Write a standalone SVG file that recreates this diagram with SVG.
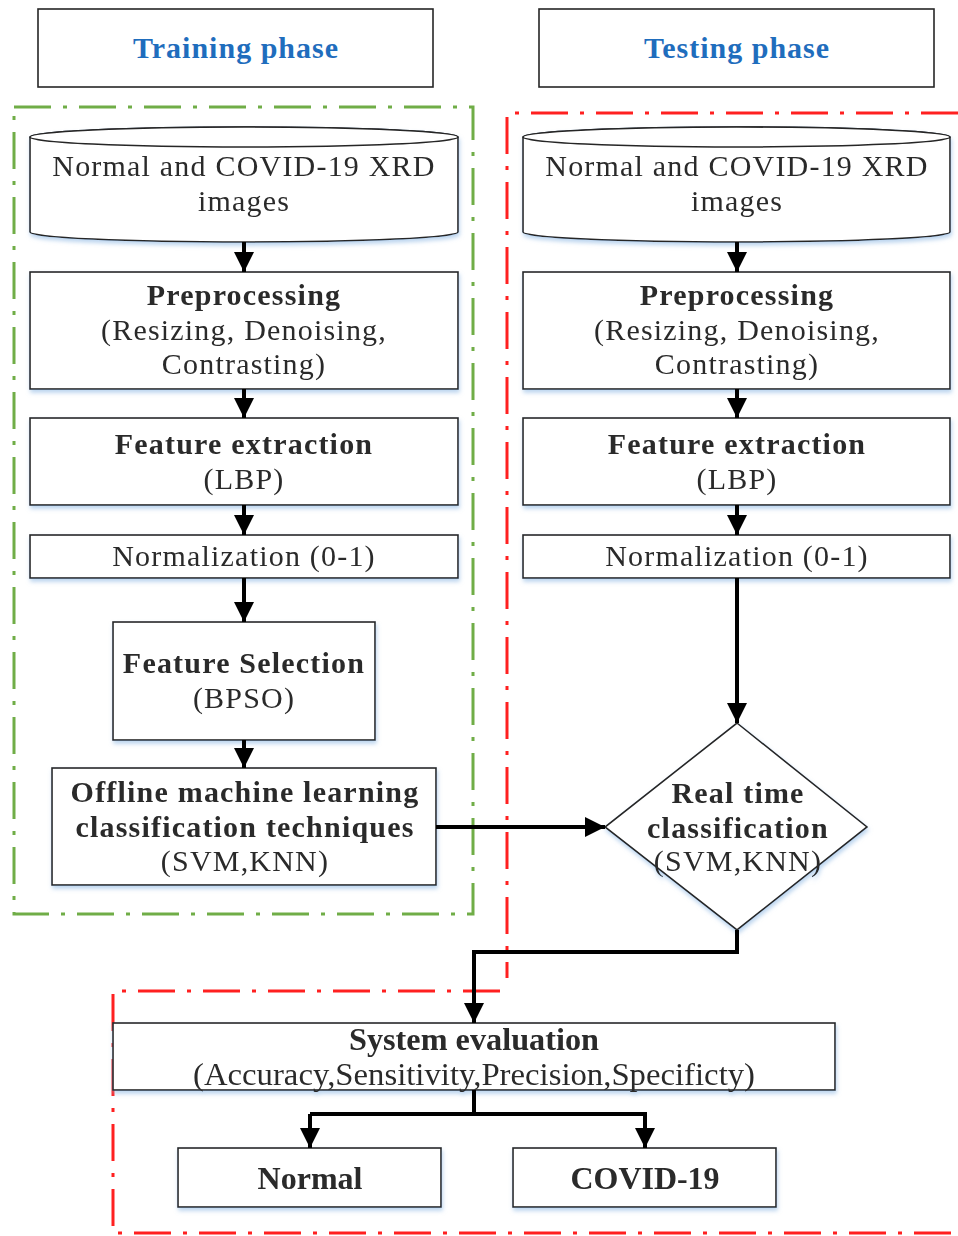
<svg xmlns="http://www.w3.org/2000/svg" width="958" height="1236" viewBox="0 0 958 1236">
<defs>
<filter id="sh" x="-5%" y="-10%" width="110%" height="130%">
<feDropShadow dx="1" dy="3" stdDeviation="2" flood-color="#8db8e3" flood-opacity="0.6"/>
</filter>
<marker id="ah" markerUnits="userSpaceOnUse" markerWidth="20" markerHeight="20" viewBox="0 0 20 20" refX="20" refY="10" orient="auto">
<path d="M0,0 L20,10 L0,20 Z" fill="#000"/>
</marker>
</defs>
<style>
.box{fill:#fff;stroke:#262626;stroke-width:1.6}
.t{font-family:"Liberation Serif","Times New Roman",serif;font-size:30px;fill:#2b2b2b;text-anchor:middle;letter-spacing:1.2px}
.b{font-weight:bold}
.title{font-family:"Liberation Serif","Times New Roman",serif;font-size:30px;font-weight:bold;fill:#1f6dbd;text-anchor:middle;letter-spacing:1px}
.c{fill:none;stroke:#000;stroke-width:4}
.g{fill:none;stroke:#70ad47;stroke-width:3;stroke-dasharray:37 12 4 12}
.r{fill:none;stroke:#ff2020;stroke-width:3;stroke-dasharray:37 12 4 12}
</style>

<g id="regions">
<path class="g" d="M14,107 H473 V914 H14 Z"/>
<path class="r" d="M958,113 H507 V978"/>
<path class="r" d="M500,991 H113 V1233 H958"/>
</g>

<g id="training-title">
<rect class="box" x="38" y="9" width="395" height="78"/>
<text class="title" x="236" y="58">Training phase</text>
</g>
<g id="testing-title">
<rect class="box" x="539" y="9" width="395" height="78"/>
<text class="title" x="737" y="58">Testing phase</text>
</g>

<g id="train-images" filter="url(#sh)">
<path class="box" d="M30,137 A214,10 0 0,1 458,137 L458,232 A214,10 0 0,1 30,232 Z"/>
<ellipse class="box" cx="244" cy="137" rx="214" ry="10"/>
<text class="t" x="244" y="176">Normal and COVID-19 XRD</text>
<text class="t" x="244" y="211">images</text>
</g>
<g id="test-images" filter="url(#sh)">
<path class="box" d="M523,137 A213.5,10 0 0,1 950,137 L950,232 A213.5,10 0 0,1 523,232 Z"/>
<ellipse class="box" cx="736.5" cy="137" rx="213.5" ry="10"/>
<text class="t" x="737" y="176">Normal and COVID-19 XRD</text>
<text class="t" x="737" y="211">images</text>
</g>

<g id="train-preproc" filter="url(#sh)">
<rect class="box" x="30" y="272" width="428" height="117"/>
<text class="t b" x="244" y="305">Preprocessing</text>
<text class="t" x="244" y="340">(Resizing, Denoising,</text>
<text class="t" x="244" y="374">Contrasting)</text>
</g>
<g id="test-preproc" filter="url(#sh)">
<rect class="box" x="523" y="272" width="427" height="117"/>
<text class="t b" x="737" y="305">Preprocessing</text>
<text class="t" x="737" y="340">(Resizing, Denoising,</text>
<text class="t" x="737" y="374">Contrasting)</text>
</g>

<g id="train-feat" filter="url(#sh)">
<rect class="box" x="30" y="418" width="428" height="87"/>
<text class="t b" x="244" y="454">Feature extraction</text>
<text class="t" x="244" y="489">(LBP)</text>
</g>
<g id="test-feat" filter="url(#sh)">
<rect class="box" x="523" y="418" width="427" height="87"/>
<text class="t b" x="737" y="454">Feature extraction</text>
<text class="t" x="737" y="489">(LBP)</text>
</g>

<g id="train-norm" filter="url(#sh)">
<rect class="box" x="30" y="535" width="428" height="43"/>
<text class="t" x="244" y="566">Normalization (0-1)</text>
</g>
<g id="test-norm" filter="url(#sh)">
<rect class="box" x="523" y="535" width="427" height="43"/>
<text class="t" x="737" y="566">Normalization (0-1)</text>
</g>

<g id="feature-selection" filter="url(#sh)">
<rect class="box" x="113" y="622" width="262" height="118"/>
<text class="t b" x="244" y="673">Feature Selection</text>
<text class="t" x="244" y="708">(BPSO)</text>
</g>

<g id="offline" filter="url(#sh)">
<rect class="box" x="52" y="768" width="384" height="117"/>
<text class="t b" x="245" y="802">Offline machine learning</text>
<text class="t b" x="245" y="837">classification techniques</text>
<text class="t" x="245" y="871">(SVM,KNN)</text>
</g>

<g id="realtime" filter="url(#sh)">
<path class="box" d="M737,723 L867,827 L737,930 L605,827 Z"/>
<text class="t b" x="738" y="803">Real time</text>
<text class="t b" x="738" y="838">classification</text>
<text class="t" x="738" y="871">(SVM,KNN)</text>
</g>

<g id="evaluation" filter="url(#sh)">
<rect class="box" x="113" y="1023" width="722" height="67"/>
<text class="t b" x="474" y="1050" textLength="250" lengthAdjust="spacingAndGlyphs" style="font-size:32px;letter-spacing:0">System evaluation</text>
<text class="t" x="474" y="1085" textLength="562" lengthAdjust="spacingAndGlyphs" style="font-size:32px;letter-spacing:0">(Accuracy,Sensitivity,Precision,Specificty)</text>
</g>

<g id="normal" filter="url(#sh)">
<rect class="box" x="178" y="1148" width="263" height="59"/>
<text class="t b" x="310" y="1189" textLength="105" lengthAdjust="spacingAndGlyphs" style="font-size:32px;letter-spacing:0">Normal</text>
</g>
<g id="covid" filter="url(#sh)">
<rect class="box" x="513" y="1148" width="263" height="59"/>
<text class="t b" x="645" y="1189" textLength="149" lengthAdjust="spacingAndGlyphs" style="font-size:32px;letter-spacing:0">COVID-19</text>
</g>

<g id="connectors">
<path class="c" d="M244,242 V272" marker-end="url(#ah)"/>
<path class="c" d="M737,242 V272" marker-end="url(#ah)"/>
<path class="c" d="M244,389 V418" marker-end="url(#ah)"/>
<path class="c" d="M737,389 V418" marker-end="url(#ah)"/>
<path class="c" d="M244,505 V535" marker-end="url(#ah)"/>
<path class="c" d="M737,505 V535" marker-end="url(#ah)"/>
<path class="c" d="M244,578 V622" marker-end="url(#ah)"/>
<path class="c" d="M244,740 V768" marker-end="url(#ah)"/>
<path class="c" d="M737,578 V723" marker-end="url(#ah)"/>
<path class="c" d="M436,827 H605" marker-end="url(#ah)"/>
<path class="c" d="M737,930 V952 H474 V1023" marker-end="url(#ah)"/>
<path class="c" d="M474,1090 V1114"/>
<path class="c" d="M310,1114 H645 V1148" marker-end="url(#ah)"/>
<path class="c" d="M310,1114 V1148" marker-end="url(#ah)"/>
</g>
</svg>
